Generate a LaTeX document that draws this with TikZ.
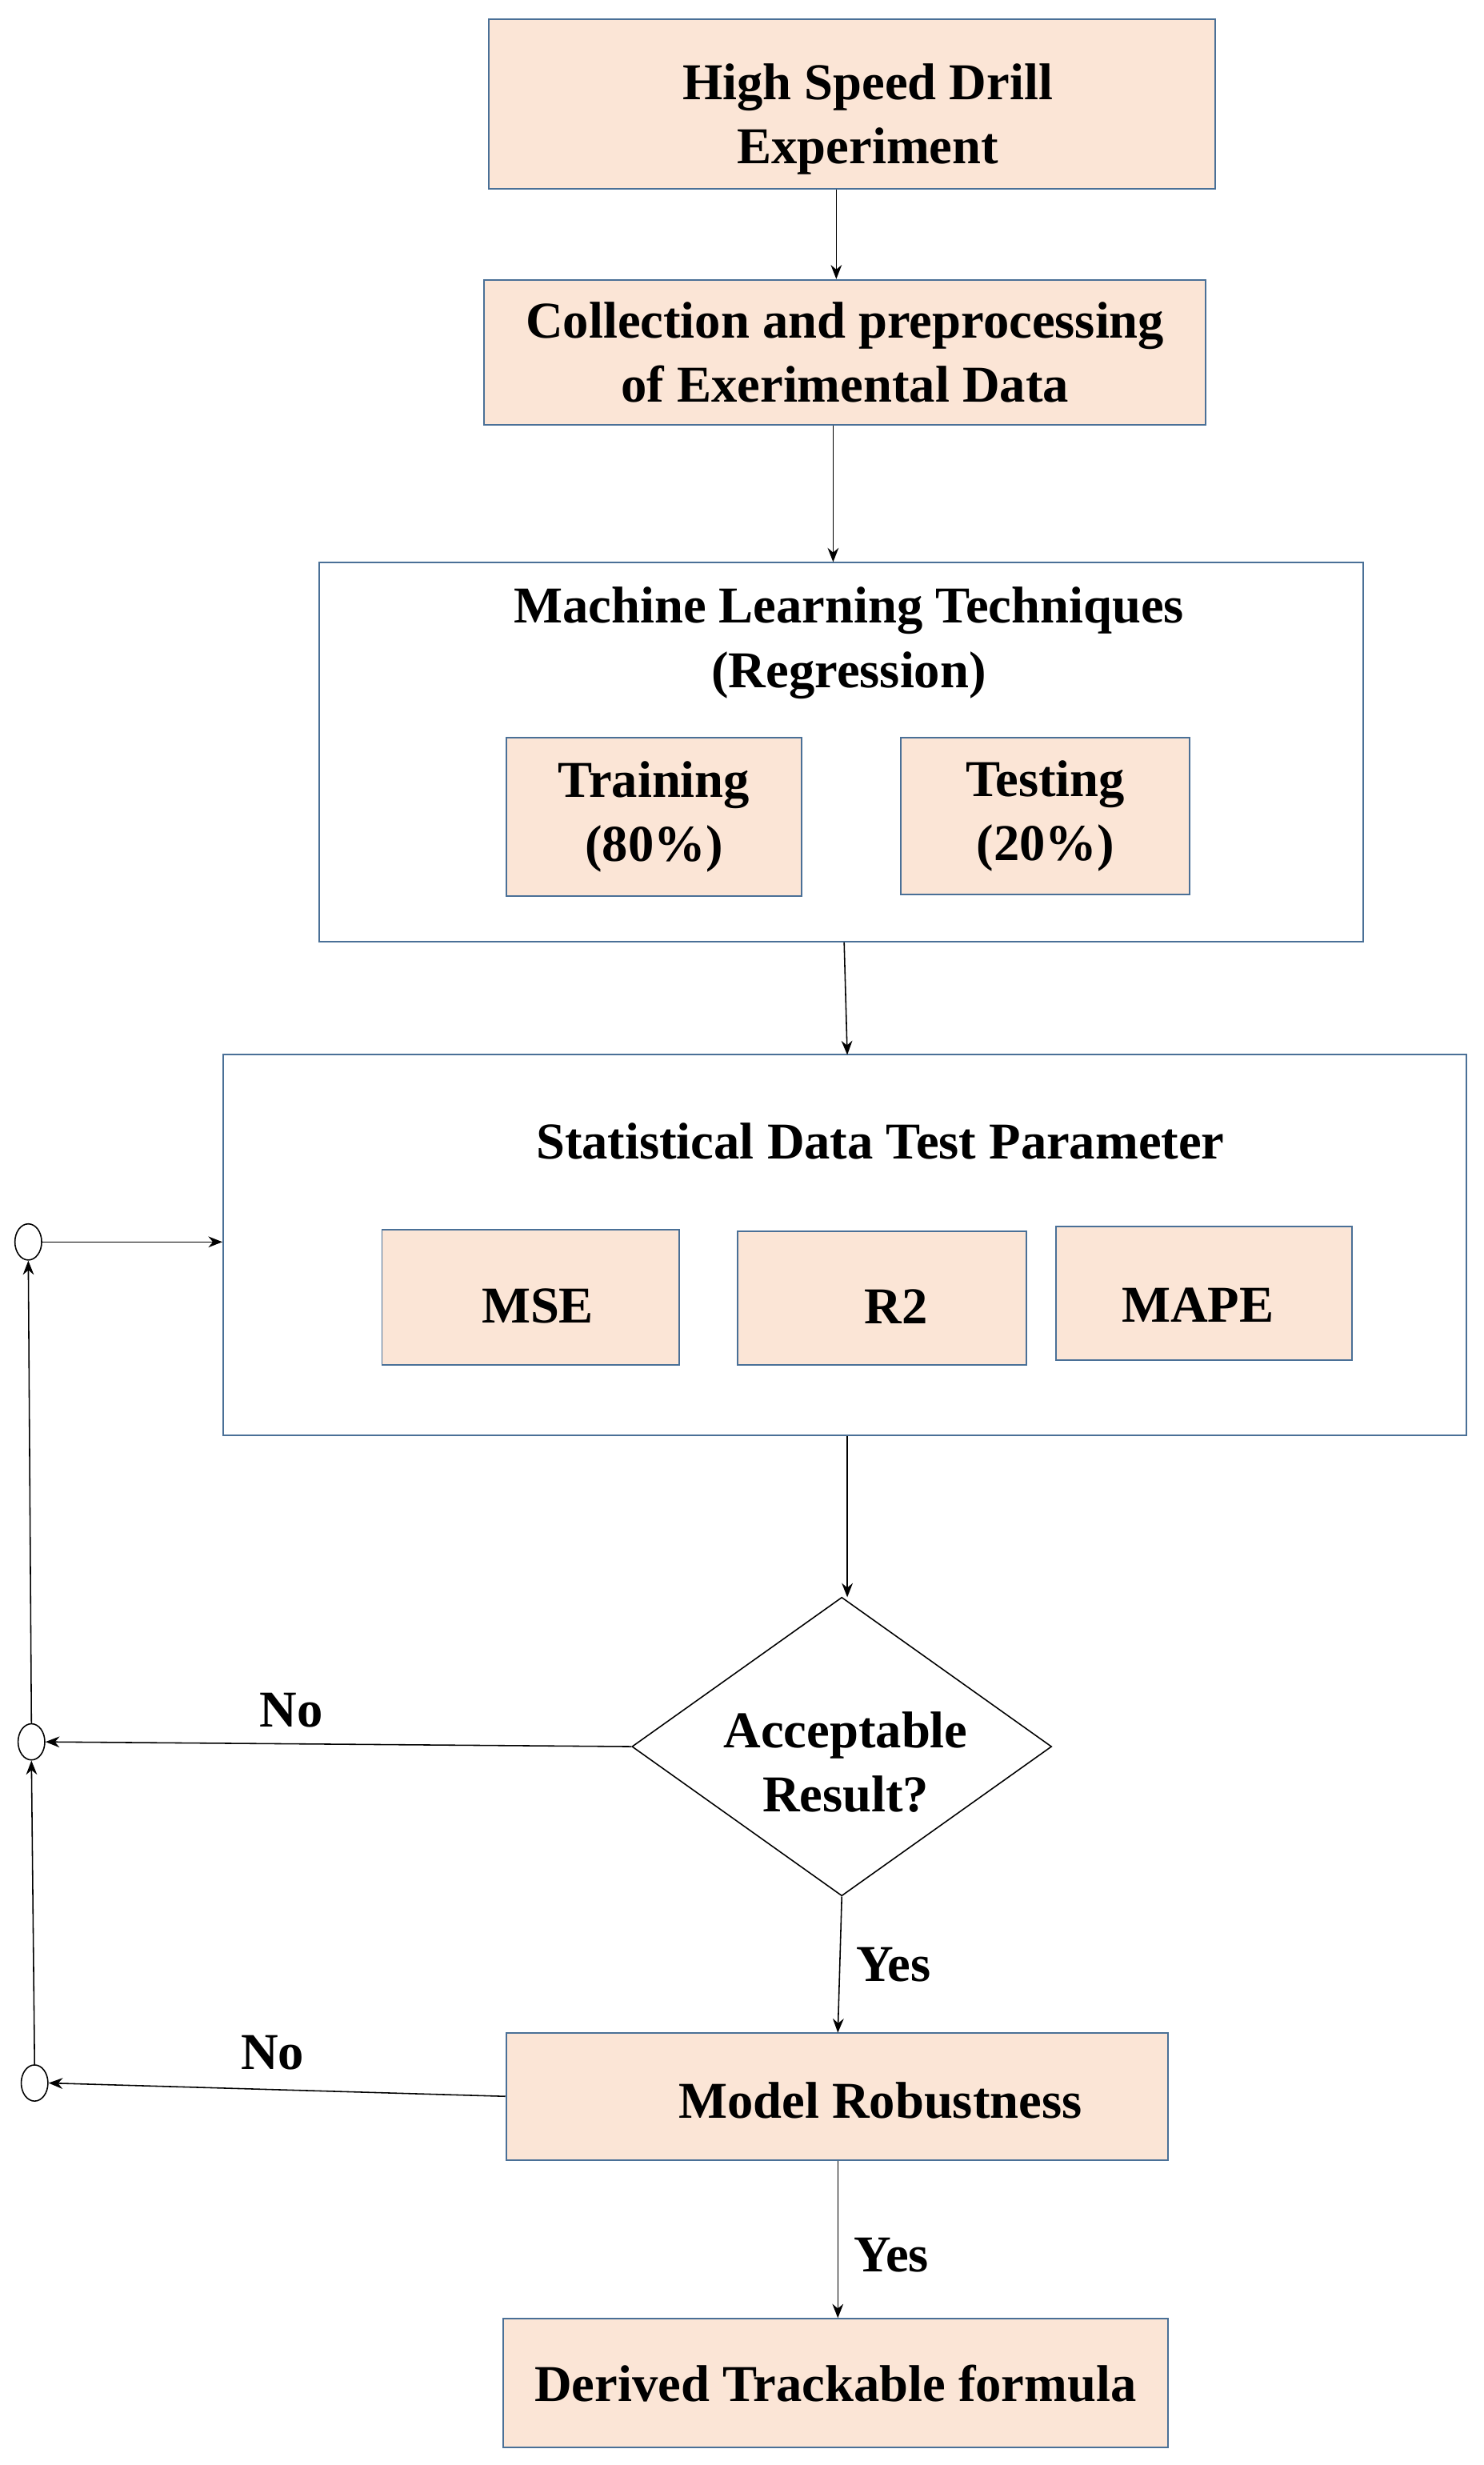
\documentclass[tikz,border=0pt]{standalone}
\usepackage{fontspec}
\setmainfont{Liberation Serif}
\usetikzlibrary{shapes.geometric,arrows.meta}
\definecolor{peach}{HTML}{FBE5D6}
\definecolor{bord}{HTML}{4A7097}
\begin{document}
\begin{tikzpicture}[x=1bp,y=-1bp,
  every node/.style={font=\fontsize{33}{41}\selectfont\bfseries,align=center,inner sep=0},
  pbox/.style={draw=bord,line width=1pt,fill=peach},
  wbox/.style={draw=bord,line width=1pt,fill=white},
  arr/.style={-{Stealth[length=9pt,width=7pt]},line width=0.8pt},
  circ/.style={draw=black,line width=0.8pt,ellipse,minimum width=17bp,minimum height=23bp}]
\useasboundingbox (0,0) rectangle (944,1568);
\node[pbox,minimum width=462bp,minimum height=108bp] (b1) at (542,66) {};
\node (t1) at (552,76) {High Speed Drill\\Experiment};
\node[pbox,minimum width=459bp,minimum height=92bp] (b2) at (537.5,224) {Collection and preprocessing\\of Exerimental Data};
\node[wbox,minimum width=664bp,minimum height=241bp] (b3) at (535,478.5) {};
\node (t3) at (540,409) {Machine Learning Techniques\\(Regression)};
\node[pbox,minimum width=188bp,minimum height=101bp] (tr) at (416,519.5) {Training\\(80\%)};
\node[pbox,minimum width=184bp,minimum height=100bp] (te) at (665,519) {Testing\\(20\%)};
\node[wbox,minimum width=791bp,minimum height=242bp] (b4) at (537.5,792) {};
\node (t4) at (560,726) {Statistical Data Test Parameter};
\node[pbox,minimum width=189bp,minimum height=86bp] (mse) at (337.5,825) {};
\node (tmse) at (342,831) {MSE};
\node[pbox,minimum width=184bp,minimum height=85bp] (r2) at (561,825.5) {};
\node (tr2) at (570,831) {R2};
\node[pbox,minimum width=188bp,minimum height=85bp] (mape) at (766,822.5) {};
\node (tmape) at (762,830) {MAPE};
\node[draw=black,line width=0.8pt,fill=white,diamond,minimum width=267bp,minimum height=190bp] (d) at (535.5,1111) {};
\node (td) at (538,1121) {Acceptable\\Result?};
\node[pbox,minimum width=421bp,minimum height=81bp] (mr) at (532.5,1333.5) {};
\node (tmr) at (560,1336) {Model Robustness};
\node[pbox,minimum width=423bp,minimum height=82bp] (df) at (531.5,1516) {Derived Trackable formula};
\node[circ] (c1) at (18,790) {};
\node[circ] (c2) at (20,1108) {};
\node[circ] (c3) at (22,1325) {};
\draw[arr] (b1.south -| 532,0) -- (b2.north -| 532,0);
\draw[arr] (b2.south -| 530,0) -- (b3.north -| 530,0);
\draw[arr] (b3.south -| 537,0) -- (539,671);
\draw[arr] (b4.south -| 539,0) -- (539,1016);
\draw[arr] (d.south) -- (533,1293) node[pos=0.5,right=10bp] {Yes};
\draw[arr] (mr.south -| 533,0) -- (df.north -| 533,0) node[pos=0.6,right=10bp] {Yes};
\draw[arr] (d.west) -- (c2.east) node[pos=0.58,above=10bp] {No};
\draw[arr] (mr.west) -- (c3.east) node[pos=0.51,above=12bp] {No};
\draw[arr] (c3.north) -- (c2.south);
\draw[arr] (c2.north) -- (c1.south);
\draw[arr] (c1.east) -- (b4.west |- c1.east);
\end{tikzpicture}
\end{document}
